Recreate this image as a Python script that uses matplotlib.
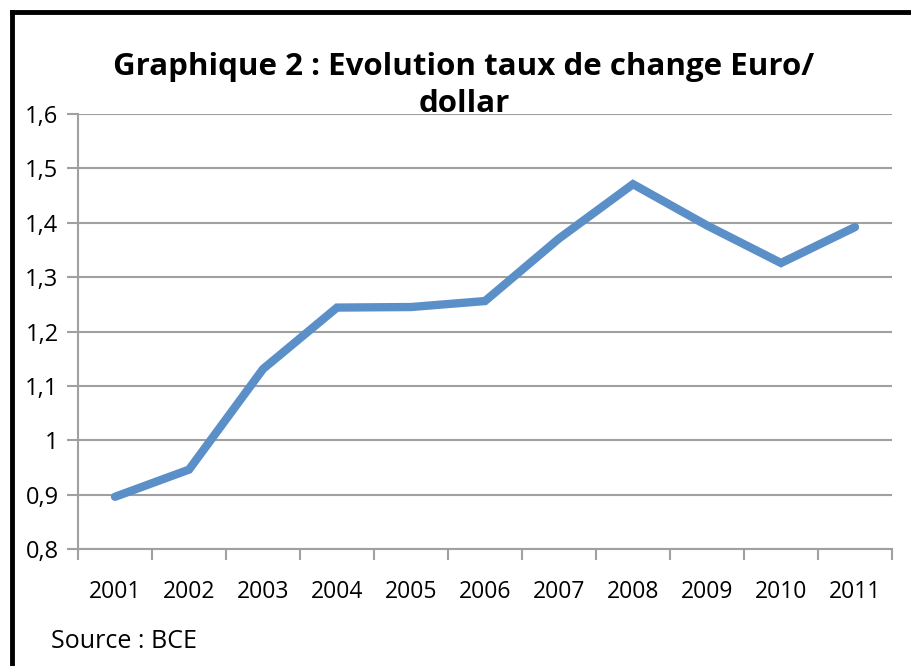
import numpy as np
import matplotlib.pyplot as plt
from matplotlib.lines import Line2D

years = ['2001', '2002', '2003', '2004', '2005', '2006', '2007', '2008', '2009', '2010', '2011']
taux = [0.896, 0.946, 1.131, 1.244, 1.245, 1.256, 1.371, 1.471, 1.395, 1.326, 1.392]
yticks = [0.8, 0.9, 1.0, 1.1, 1.2, 1.3, 1.4, 1.5, 1.6]
ylabels = ['0,8', '0,9', '1', '1,1', '1,2', '1,3', '1,4', '1,5', '1,6']

plt.rcParams['font.family'] = ['Open Sans', 'DejaVu Sans']

fig = plt.figure(figsize=(9.12, 6.66), dpi=100)
ax = fig.add_axes([78/912, 1 - 549/666, (892 - 78)/912, (549 - 114)/666])

x = np.arange(len(years))
ax.plot(x, taux, color='#5b8fc8', lw=6, solid_capstyle='round', solid_joinstyle='miter', zorder=3)

ax.set_xlim(-0.5, len(years) - 0.5)
ax.set_ylim(0.8, 1.6)
ax.set_yticks(yticks)
ax.set_yticklabels(ylabels, fontsize=17)
ax.set_xticks(x)
ax.set_xticklabels(years, fontsize=16.5)
ax.set_xticks(np.arange(len(years) + 1) - 0.5, minor=True)

ax.tick_params(axis='x', which='major', length=0, pad=22)
ax.tick_params(axis='x', which='minor', length=8, width=1.5, color='#a0a0a0', direction='out')
ax.tick_params(axis='y', length=8, width=1.5, color='#a0a0a0', direction='out', pad=6)

ax.grid(axis='y', color='#a0a0a0', lw=1.5)
ax.set_axisbelow(True)
for s in ['top', 'right']:
    ax.spines[s].set_visible(False)
for s in ['left', 'bottom']:
    ax.spines[s].set_color('#a0a0a0')
    ax.spines[s].set_linewidth(1.5)

fig.text(464/912, 1 - 67/666, 'Graphique 2 : Evolution taux de change Euro/',
         ha='center', va='center', fontsize=22.5, fontweight='bold')
fig.text(464/912, 1 - 104/666, 'dollar', ha='center', va='center', fontsize=22.5, fontweight='bold')
fig.text(51/912, 1 - 641/666, 'Source : BCE', ha='left', va='center', fontsize=18)

# cadre noir (haut et gauche visibles)
fig.add_artist(Line2D([12/912, 12/912], [0, 1 - 12/666], color='black', lw=3.5, transform=fig.transFigure))
fig.add_artist(Line2D([12/912, 1], [1 - 12/666, 1 - 12/666], color='black', lw=3.5, transform=fig.transFigure))

fig.savefig('out.png', dpi=100)
